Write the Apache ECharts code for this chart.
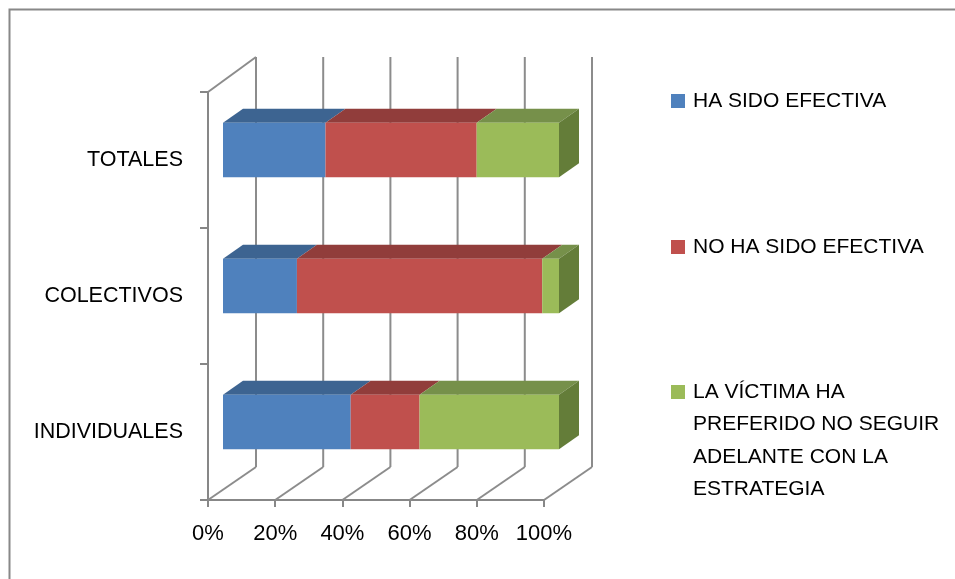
<!DOCTYPE html>
<html>
<head>
<meta charset="utf-8">
<script src="https://cdn.jsdelivr.net/npm/echarts@6/dist/echarts.min.js"></script>
<style>html,body{margin:0;padding:0;background:#fff;}#c{width:955px;height:579px;}</style>
</head>
<body>
<div id="c"></div>
<script>
// ---- data ----
var categories = ['INDIVIDUALES', 'COLECTIVOS', 'TOTALES'];
var seriesNames = ['HA SIDO EFECTIVA', 'NO HA SIDO EFECTIVA', 'LA VÍCTIMA HA\nPREFERIDO NO SEGUIR\nADELANTE CON LA\nESTRATEGIA'];
var haSidoEfectiva = [38, 22, 30.5];
var noHaSidoEfectiva = [20.5, 73, 45];
var victimaNoSiguio = [41.5, 5, 24.5];
var xTicks = [0, 20, 40, 60, 80, 100];

// ---- styles ----
var frontColors = ['#4F81BD', '#C0504D', '#9BBB59'];
var topColors = ['#3D6491', '#913D3B', '#76904A'];
var sideColors = ['#2F4E72', '#74302E', '#647D39'];
var WALL_DX = 48, WALL_DY = -33;     // depth of the 3D box
var BAR_OX = 15, BAR_OY = -10;       // bar front face offset inside the box
var BAR_DX = 20, BAR_DY = -14;       // depth of each bar
var BAR_FRAC = 0.4;                  // bar height as fraction of band
var AXIS_COLOR = '#878787';
var LINE_H = 32.5;

var allSeries = [haSidoEfectiva, noHaSidoEfectiva, victimaNoSiguio];
var totals = categories.map(function (c, i) {
  return allSeries.reduce(function (s, arr) { return s + arr[i]; }, 0);
});

function stackedData(k) {
  return categories.map(function (c, i) {
    var start = 0;
    for (var j = 0; j < k; j++) start += allSeries[j][i];
    var end = start + allSeries[k][i];
    return [i, start / totals[i] * 100, end / totals[i] * 100];
  });
}

function wallRender(params, api) {
  var v = api.value(0);
  var cs = params.coordSys;
  var x = api.coord([v, 0])[0];
  var bottom = cs.y + cs.height;
  var top = cs.y;
  var style = { stroke: '#8C8C8C', lineWidth: 2, fill: null };
  var children = [
    { type: 'line', shape: { x1: x, y1: bottom, x2: x + WALL_DX, y2: bottom + WALL_DY }, style: style },
    { type: 'line', shape: { x1: x + WALL_DX, y1: bottom + WALL_DY, x2: x + WALL_DX, y2: top + WALL_DY - 2 }, style: style }
  ];
  if (v === xTicks[0]) {
    children.push({ type: 'line', shape: { x1: x, y1: top, x2: x + WALL_DX, y2: top + WALL_DY - 2 }, style: style });
  }
  return { type: 'group', children: children };
}

function makeBarRender(k) {
  return function (params, api) {
    var cat = api.value(0);
    var s = api.value(1), e = api.value(2);
    if (e - s <= 0) return null;
    var p0 = api.coord([s, cat]);
    var p1 = api.coord([e, cat]);
    var band = api.size([0, 1])[1];
    var h = band * BAR_FRAC;
    var xa = p0[0] + BAR_OX, xb = p1[0] + BAR_OX;
    var yc = p0[1] + BAR_OY;
    var yt = yc - h / 2, yb = yc + h / 2;
    var children = [
      { type: 'polygon', shape: { points: [[xa, yt], [xb, yt], [xb + BAR_DX, yt + BAR_DY], [xa + BAR_DX, yt + BAR_DY]] },
        style: { fill: topColors[k] } },
      { type: 'rect', shape: { x: xa, y: yt, width: xb - xa, height: yb - yt },
        style: { fill: frontColors[k] } }
    ];
    if (e >= 99.999) {
      children.push({ type: 'polygon', shape: { points: [[xb, yt], [xb + BAR_DX, yt + BAR_DY], [xb + BAR_DX, yb + BAR_DY], [xb, yb]] },
        style: { fill: sideColors[k] } });
    }
    return { type: 'group', children: children };
  };
}

var chart = echarts.init(document.getElementById('c'), null, { renderer: 'canvas' });

var series = [{
  type: 'custom',
  name: '_wall',
  renderItem: wallRender,
  data: xTicks.map(function (t) { return [t]; }),
  encode: { x: 0 },
  silent: true,
  z: 1
}];
for (var k = 0; k < 3; k++) {
  series.push({
    type: 'custom',
    name: seriesNames[k],
    renderItem: makeBarRender(k),
    data: stackedData(k),
    encode: { x: [1, 2], y: 0 },
    itemStyle: { color: frontColors[k] },
    z: 2 + k
  });
}

var legendCommon = {
  orient: 'vertical',
  left: 671,
  padding: 0,
  icon: 'rect',
  itemWidth: 14,
  itemHeight: 14,
  selectedMode: false,
  textStyle: { fontFamily: 'Liberation Sans', fontSize: 21, color: '#000', lineHeight: LINE_H, padding: [0, 0, 0, 3] }
};

var option = {
  animation: false,
  backgroundColor: '#fff',
  graphic: [{
    type: 'rect', left: 7, top: 7, silent: true,
    shape: { x: 0, y: 0, width: 1000, height: 1000 },
    style: { fill: null, stroke: '#888', lineWidth: 2 }
  }],
  legend: [
    Object.assign({}, legendCommon, { top: 101 - LINE_H / 2, data: [seriesNames[0]] }),
    Object.assign({}, legendCommon, { top: 247 - LINE_H / 2, data: [seriesNames[1]] }),
    Object.assign({}, legendCommon, {
      top: 392 - 3.5 * LINE_H, data: [seriesNames[2]],
      formatter: function (name) { return '\n\n\n' + name; }
    })
  ],
  grid: { left: 208, right: 411, top: 92, bottom: 79, containLabel: false },
  xAxis: {
    type: 'value', min: 0, max: 100, interval: 20,
    axisLine: { show: true, lineStyle: { color: AXIS_COLOR, width: 2 } },
    axisTick: { show: true, length: 7, lineStyle: { color: AXIS_COLOR, width: 2 } },
    splitLine: { show: false },
    axisLabel: { formatter: '{value}%', margin: 22, fontFamily: 'Liberation Sans', fontSize: 22, color: '#000', lineHeight: 24 }
  },
  yAxis: {
    type: 'category', data: categories, boundaryGap: true,
    axisLine: { show: true, lineStyle: { color: AXIS_COLOR, width: 2 } },
    axisTick: { show: true, length: 8, lineStyle: { color: AXIS_COLOR, width: 2 } },
    splitLine: { show: false },
    axisLabel: { margin: 25, fontFamily: 'Liberation Sans', fontSize: 21.5, color: '#000' }
  },
  series: series
};
chart.setOption(option);
</script>
</body>
</html>
